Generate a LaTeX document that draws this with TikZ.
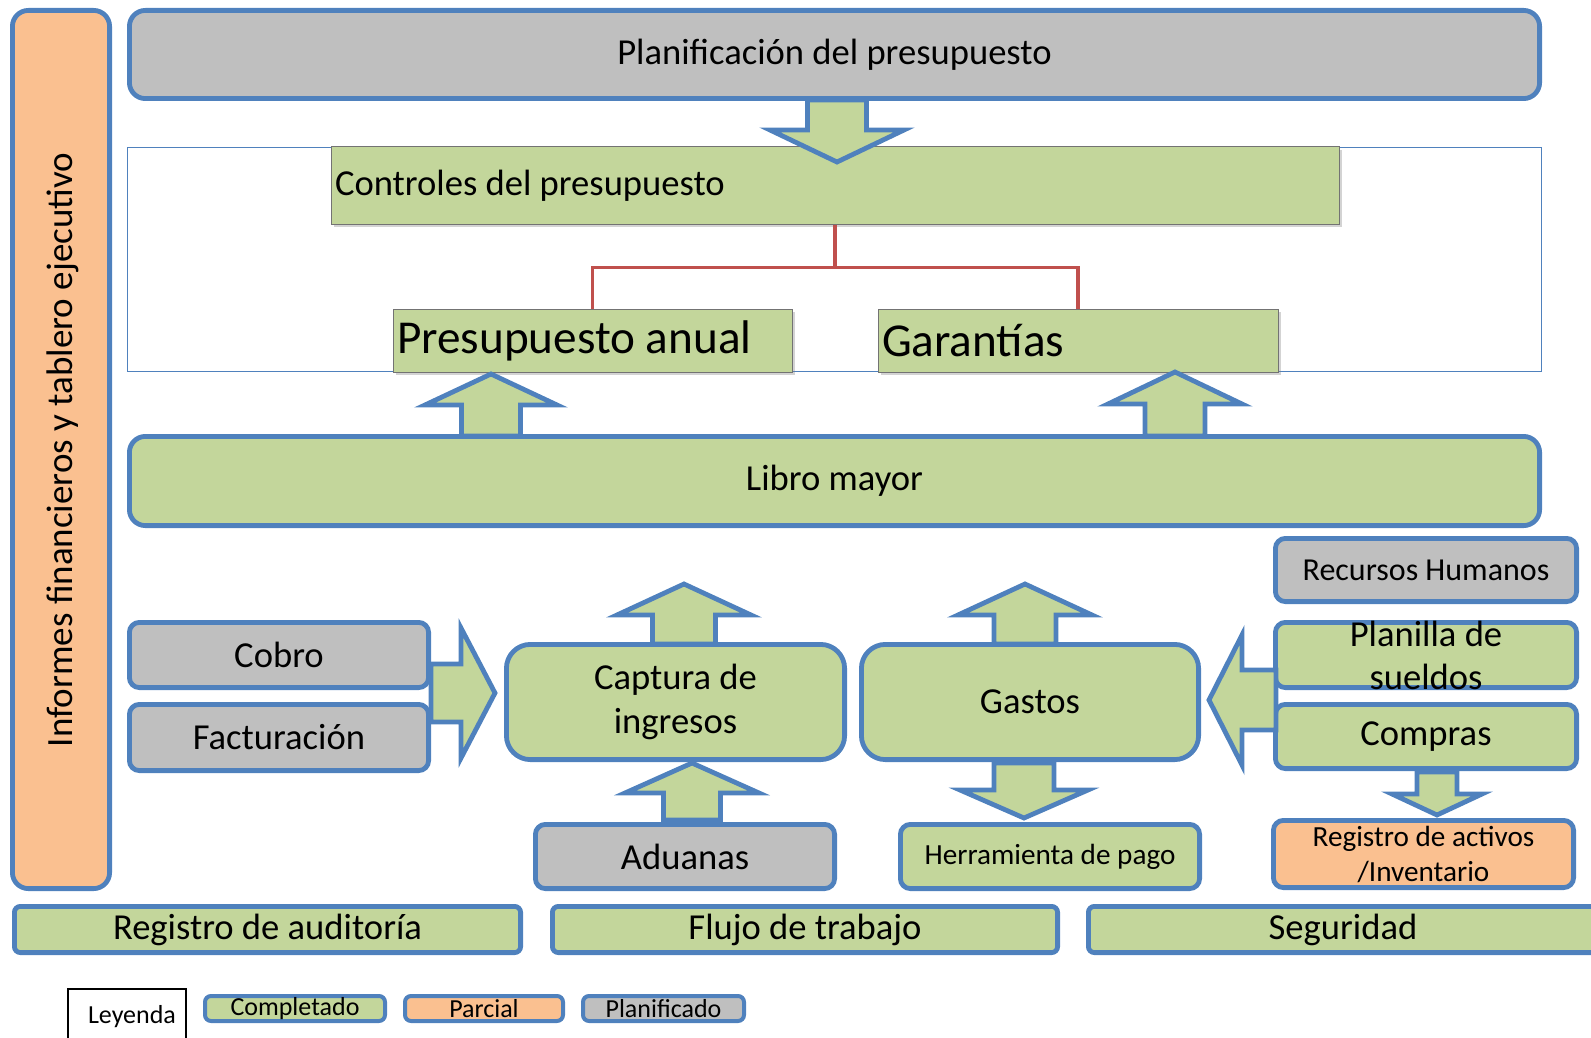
\documentclass[tikz,border=0pt]{standalone}
\usepackage{fontspec}
\setmainfont{Carlito}
\usetikzlibrary{calc,shadows}
\definecolor{bluebord}{HTML}{4F81BD}
\definecolor{greenfill}{HTML}{C3D69B}
\definecolor{grayfill}{HTML}{BFBFBF}
\definecolor{orangefill}{HTML}{FAC090}
\definecolor{treered}{HTML}{C0504D}
\tikzset{
  box/.style={draw=bluebord, line width=2.4pt, rounded corners=5pt, inner sep=0pt,
    align=center, font=\fontsize{18.3}{21.8}\selectfont},
  done/.style={box, fill=greenfill},
  part/.style={box, fill=orangefill},
  plan/.style={box, fill=grayfill},
  flat/.style={draw=black!55, line width=0.5pt, fill=greenfill, inner sep=2pt, align=flush left,
    drop shadow={shadow xshift=1.5pt, shadow yshift=-1.5pt, opacity=0.35}},
  blockarrow/.style={draw=bluebord, line width=2.4pt, fill=greenfill, line join=miter},
  treeline/.style={draw=treered, line width=1.6pt},
}
% tail, angle, length, shaft half width, head half width, head length
\newcommand{\blockarrow}[6]{%
  \begin{scope}[shift={#1}, rotate=#2]
    \draw[blockarrow] (0,-#4) -- (#3-#6,-#4) -- (#3-#6,-#5) -- (#3,0)
      -- (#3-#6,#5) -- (#3-#6,#4) -- (0,#4) -- cycle;
  \end{scope}}
\begin{document}
\begin{tikzpicture}[x=0.5pt, y=-0.5pt]
\useasboundingbox (0,0) rectangle (1591,1038);

% side bar and top layer
\node[part, rounded corners=8pt, minimum width=48.6pt, minimum height=439.1pt] (side) at (61,449.5) {};
\node[rotate=90, font=\fontsize{18.5}{22}\selectfont] (sidelabel) at (63,450) {Informes financieros y tablero ejecutivo};
\node[plan, rounded corners=8pt, minimum width=705.1pt, minimum height=44.1pt] (planif) at (834.5,54.5) {Planificación del presupuesto};

% controles
\node[draw=bluebord, line width=0.8pt, minimum width=707pt, minimum height=112pt, inner sep=0pt] (frame) at (834.5,259.5) {};
\node[flat, minimum width=504pt, minimum height=38.5pt, text width=500pt, font=\fontsize{18.3}{21.8}\selectfont] (ctrl) at (835,185.5) {Controles del presupuesto};
\node[flat, minimum width=199.5pt, minimum height=31.5pt, text width=195.5pt, font=\fontsize{23.6}{28}\selectfont] (presup) at (592.5,340.5) {Presupuesto anual};
\node[flat, minimum width=200pt, minimum height=31.5pt, text width=196pt, font=\fontsize{23.6}{28}\selectfont] (garant) at (1078,340.5) {Garantías};
\draw[treeline] (ctrl.south) -- ++(0,43) coordinate (split) -| (presup.north);
\draw[treeline] (split) -| (garant.north);

\node[done, rounded corners=8pt, minimum width=705.1pt, minimum height=44.6pt] (libro) at (834.5,481) {Libro mayor};

% modules
\node[plan, minimum width=149.6pt, minimum height=32.6pt] (cobro) at (279,655) {Cobro};
\node[plan, minimum width=149.6pt, minimum height=33.1pt] (fact) at (279,737.5) {Facturación};
\node[done, rounded corners=12pt, minimum width=169.1pt, minimum height=57.6pt] (captura) at (675.5,702) {Captura de\\ingresos};
\node[done, rounded corners=12pt, minimum width=168.6pt, minimum height=57.6pt] (gastos) at (1030,702) {Gastos};
\node[plan, font=\fontsize{16}{19}\selectfont, minimum width=150.6pt, minimum height=31.6pt] (rrhh) at (1426,570) {Recursos Humanos};
\node[done, minimum width=150.6pt, minimum height=32.6pt] (planilla) at (1426,655) {};
\node[align=center, font=\fontsize{18.3}{21.5}\selectfont] (planillatxt) at (planilla.center) {Planilla de\\sueldos};
\node[done, minimum width=150.6pt, minimum height=32.1pt] (compras) at (1426,736.5) {Compras};
\node[plan, minimum width=149.6pt, minimum height=32.1pt] (aduanas) at (685,856.5) {Aduanas};
\node[done, font=\fontsize{14.6}{17.5}\selectfont, minimum width=149.6pt, minimum height=32.1pt] (herram) at (1050,856.5) {Herramienta de pago};
\node[part, font=\fontsize{14.6}{17.5}\selectfont, minimum width=150.1pt, minimum height=33.6pt] (activos) at (1423.5,854) {Registro de activos\\/Inventario};

% base row
\foreach \name/\x/\w/\txt in {audit/267.5/253.1/Registro de auditoría, flujo/805/252.6/Flujo de trabajo, segur/1343/254.6/Seguridad}
  \node[done, rounded corners=3pt, minimum width=\w pt, minimum height=23.1pt] (\name) at (\x,929.5) {\txt};

% legend
\node[draw=black, line width=0.6pt, minimum width=59pt, minimum height=28pt, inner sep=0pt, font=\fontsize{13}{15}\selectfont] (leyenda) at (127,1017) {\hspace*{5pt}Leyenda};
\foreach \name/\sty/\x/\w/\txt in {compl/done/295/90/Completado, parc/part/484/79/Parcial, planf/plan/663.5/80.5/Planificado}
  \node[\sty, line width=2pt, rounded corners=3pt, minimum width=\w pt, minimum height=12.5pt, font=\fontsize{13}{15}\selectfont] (\name) at (\x,1008.5) {\txt};

% block arrows
\blockarrow{(837,100)}{-90}{62}{29.5}{67}{32}
\blockarrow{(491,436)}{90}{62}{29.5}{66}{31}
\blockarrow{(1175,436)}{90}{64}{30}{67}{32}
\blockarrow{(684,644)}{90}{60}{31.5}{67}{31}
\blockarrow{(1025,644)}{90}{60}{31}{67}{31}
\blockarrow{(1024,763)}{-90}{55}{30}{64}{28}
\blockarrow{(692,820)}{90}{57}{28.5}{67}{30}
\blockarrow{(431,693)}{0}{64}{29}{65}{34}
\blockarrow{(1276,700)}{180}{67}{30}{65}{33}
\blockarrow{(1437,772)}{-90}{43}{20}{45}{21}
\end{tikzpicture}
\end{document}
